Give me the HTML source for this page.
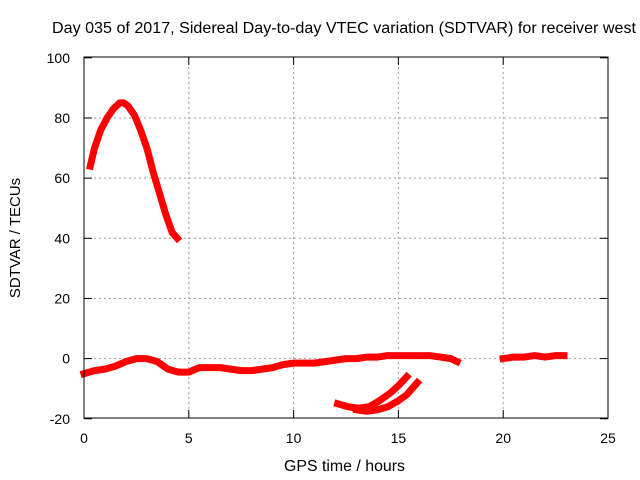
<!DOCTYPE html>
<html><head><meta charset="utf-8"><style>
body{margin:0;background:#fff}
svg{display:block;font-family:"Liberation Sans",sans-serif}
</style></head><body>
<svg id="chart" width="640" height="480">
<text x="52" y="33" font-size="15.5" textLength="584" lengthAdjust="spacingAndGlyphs">Day 035 of 2017, Sidereal Day-to-day VTEC variation (SDTVAR) for receiver west</text>
<text x="284" y="471" font-size="15.5" textLength="121" lengthAdjust="spacingAndGlyphs">GPS time / hours</text>
<text x="20" y="238" font-size="15" text-anchor="middle" transform="rotate(-90 20 238)">SDTVAR / TECUs</text>
<g id="grid"></g><g id="ticks"></g><g id="series"></g>
<rect x="84" y="57" width="524" height="361" fill="none" stroke="#000"/>
</svg>
<script>
const xTicks=[0,5,10,15,20,25];
const yTicks=[-20,0,20,40,60,80,100];
const segATime=[0.3,0.5,0.8,1.1,1.4,1.7,1.9,2.1,2.4,2.7,3.0,3.3,3.6,3.9,4.2,4.45];
const segAVal=[64,70,76,80,83,85,85,84,81,76,70,62,55,48,42,40];
const segBTime=[0,0.5,1,1.5,2,2.5,3,3.5,4,4.5,5,5.5,6,6.5,7,7.5,8,8.5,9,9.5,10,10.5,11,11.5,12,12.5,13,13.5,14,14.5,15,15.5,16,16.5,17,17.5,17.8];
const segBVal=[-5,-4,-3.5,-2.5,-1,0,0,-1,-3.5,-4.5,-4.5,-3,-3,-3,-3.5,-4,-4,-3.5,-3,-2,-1.5,-1.5,-1.5,-1,-0.5,0,0,0.5,0.5,1,1,1,1,1,0.5,0,-1];
const segCTime=[20,20.5,21,21.5,22,22.5,22.9];
const segCVal=[0,0.5,0.5,1,0.5,1,1];
const segDTime=[12.1,12.6,13.1,13.6,14.1,14.6,15.0,15.4];
const segDVal=[-15,-16,-16.5,-16,-14,-11.5,-9,-6];
const segETime=[13.0,13.5,14.0,14.5,15.0,15.4,15.9];
const segEVal=[-17,-17.5,-17,-16,-14,-12,-8];
const NS="http://www.w3.org/2000/svg";
const X=h=>84+h*524/25, Y=v=>358.6-v*3.008;
function mk(t,a,p){const e=document.createElementNS(NS,t);for(const k in a)e.setAttribute(k,a[k]);p.appendChild(e);return e;}
const grid=document.getElementById('grid'),ticks=document.getElementById('ticks'),ser=document.getElementById('series');
xTicks.forEach(t=>{
 if(t>0&&t<25){const g=mk('line',{x1:X(t),x2:X(t),y1:57,y2:418,stroke:'#a0a0a0','stroke-dasharray':'2,3'},grid);
 }
 mk('line',{x1:X(t),x2:X(t),y1:418,y2:410,stroke:'#000'},ticks);mk('line',{x1:X(t),x2:X(t),y1:57,y2:65,stroke:'#000'},ticks);
 const l=mk('text',{x:X(t),y:443,'font-size':14,'text-anchor':'middle'},ticks);l.textContent=t;
 
});
yTicks.forEach(t=>{
 if(t>-20&&t<100){const g=mk('line',{x1:84,x2:608,y1:Y(t),y2:Y(t),stroke:'#a0a0a0','stroke-dasharray':'2,3'},grid);
 }
 mk('line',{x1:84,x2:92,y1:Y(t),y2:Y(t),stroke:'#000'},ticks);mk('line',{x1:600,x2:608,y1:Y(t),y2:Y(t),stroke:'#000'},ticks);
 const l=mk('text',{x:70,y:Y(t)+5,'font-size':14,'text-anchor':'end'},ticks);l.textContent=t;
 
});
[[segATime,segAVal,'arc-segment'],[segBTime,segBVal,'baseline-segment'],[segCTime,segCVal,'late-segment'],[segDTime,segDVal,'lower-arc-1'],[segETime,segEVal,'lower-arc-2']].forEach(([t,v,n])=>{
 const p=mk('polyline',{points:t.map((h,i)=>X(h)+','+Y(v[i])).join(' '),fill:'none',stroke:'#ff0000','stroke-width':7,'stroke-linejoin':'round','stroke-linecap':'square'},ser);
 
 
});
</script>
</body></html>
